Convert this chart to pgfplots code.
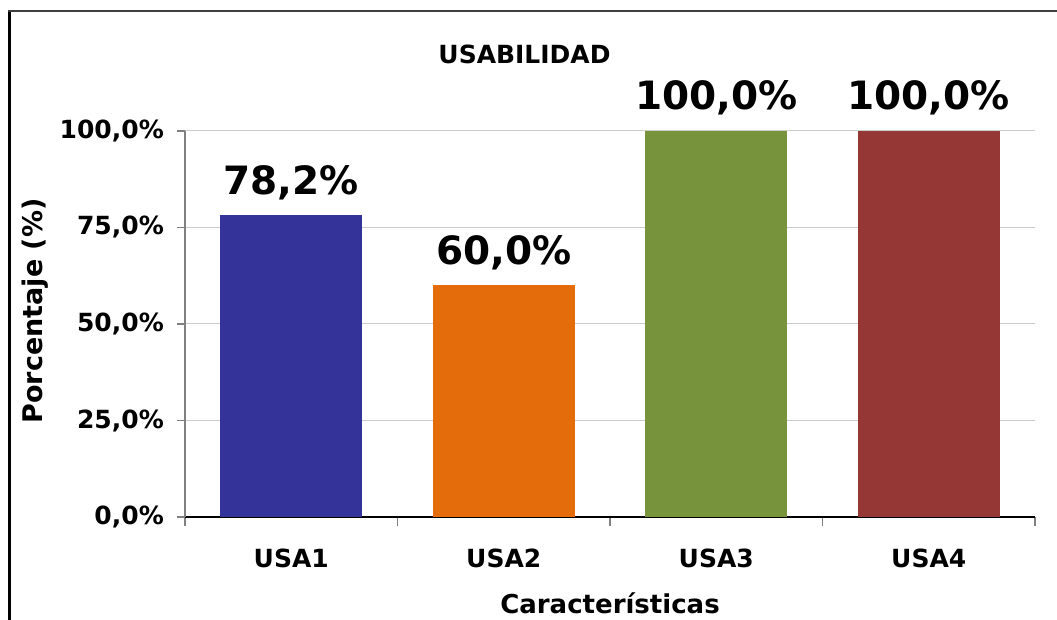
\documentclass[border=0pt]{standalone}
\usepackage{pgfplots}
\pgfplotsset{compat=1.18}
\usepackage{fontspec}
\setmainfont{DejaVu Sans}
\definecolor{usaone}{RGB}{51,51,153}
\definecolor{usatwo}{RGB}{228,108,10}
\definecolor{usathree}{RGB}{119,147,60}
\definecolor{usafour}{RGB}{149,55,53}
\newcommand{\fs}[1]{\fontsize{#1bp}{#1bp}\selectfont\bfseries}
\begin{document}
\begin{tikzpicture}
  % outer frame (left and top edges are visible)
  \draw[black, line width=3bp] (9.5bp,-20bp) -- (9.5bp,609bp);
  \draw[black!75, line width=2bp] (8bp,609bp) -- (1080bp,609bp);
  \begin{axis}[
      at={(185bp,103bp)}, anchor=south west,
      scale only axis,
      width=850bp, height=386bp,
      ybar, bar width=142bp,
      xmin=-0.5, xmax=3.5,
      ymin=0, ymax=100,
      clip=false,
      axis x line*=bottom,
      axis y line*=left,
      x axis line style={black, line width=1.5bp, -},
      y axis line style={gray, line width=1.5bp, -},
      tick align=outside,
      xtick={0,1,2,3},
      xticklabels={USA1,USA2,USA3,USA4},
      major x tick style={draw=none},
      minor xtick={-0.5,0.5,1.5,2.5,3.5},
      minor x tick style={gray, line width=1.2bp},
      minor tick length=9bp,
      ytick={0,25,50,75,100},
      yticklabels={{0,0\%},{25,0\%},{50,0\%},{75,0\%},{100,0\%}},
      major y tick style={gray, line width=1.2bp},
      major tick length=8bp,
      ymajorgrids,
      grid style={gray!40, line width=1bp},
      ticklabel style={font=\fs{25}, inner sep=0pt},
      yticklabel style={anchor=east, xshift=-13bp},
      xticklabel style={anchor=base, yshift=-43bp},
      /pgf/number format/assume math mode=true,
      nodes near coords={\pgfmathprintnumber[fixed,fixed zerofill,precision=1,use comma]{\pgfplotspointmeta}\%},
      every node near coord/.append style={font=\fs{39}, anchor=base, yshift=21bp, inner sep=0pt, black},
      xlabel={Características},
      ylabel={Porcentaje (\%)},
      label style={font=\fs{26}},
      xlabel style={at={(axis description cs:0.5,-0.2487)}, anchor=base},
      ylabel style={at={(axis description cs:-0.1765,0.534)}, anchor=center, font=\fs{27}},
    ]
    \addplot[fill=usaone, draw=none, bar shift=0pt] coordinates {(0,78.2)};
    \addplot[fill=usatwo, draw=none, bar shift=0pt] coordinates {(1,60.0)};
    \addplot[fill=usathree, draw=none, bar shift=0pt] coordinates {(2,100.0)};
    \addplot[fill=usafour, draw=none, bar shift=0pt] coordinates {(3,100.0)};
  \end{axis}
  \node[font=\fs{25}] at (524.5bp,566bp) {USABILIDAD};
  \pgfresetboundingbox
  \path[use as bounding box] (0,0) rectangle (1057bp,620bp);
\end{tikzpicture}
\end{document}
